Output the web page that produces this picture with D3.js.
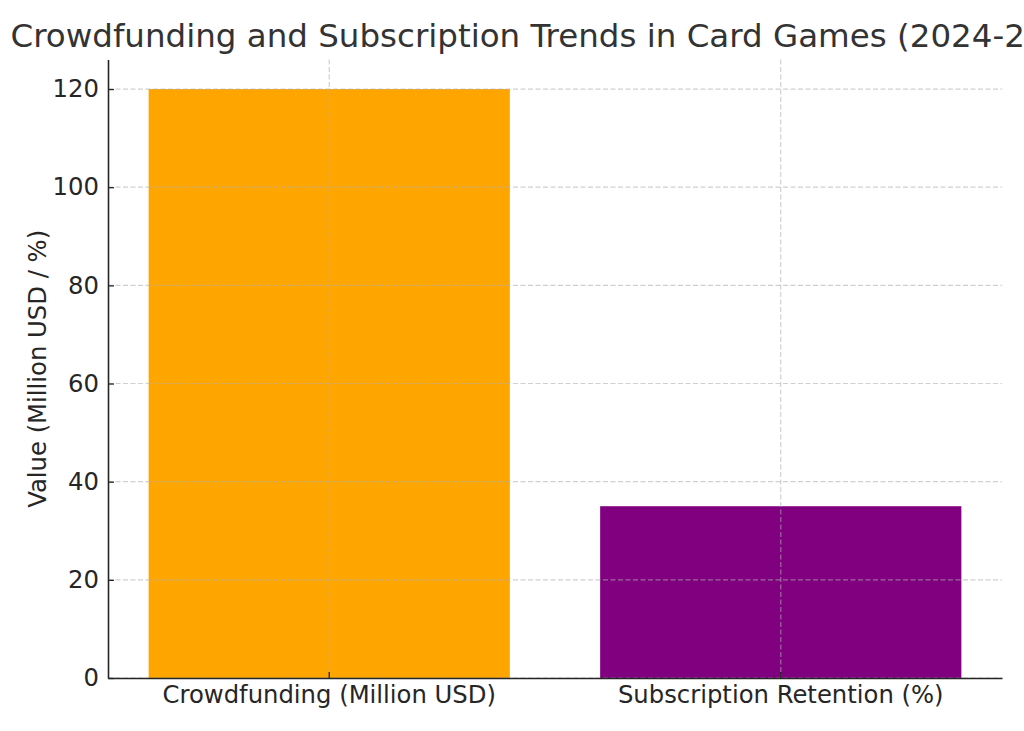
<!DOCTYPE html>
<head>
    <title>Crowdfunding and Subscription Trends</title>
    <script src="https://d3js.org/d3.v7.min.js"></script>
</head>
<style>
body {
  margin: 0;
  background: #fff;
  font-family: "DejaVu Sans", sans-serif;
}
</style>
<body>
    <svg></svg>
</body>

<script>

    // Data
    var categories = ["Crowdfunding (Million USD)", "Subscription Retention (%)"];
    var values = [120, 35];
    var barColors = ["#FFA500", "#800080"];
    var yTicks = [0, 20, 40, 60, 80, 100, 120];

    // Variables
    var width = 1024;
    var height = 731;
    var margin = {left: 108, right: 22, top: 59.6, bottom: 53};

    var svg = d3.select('svg')
        .attr('width', width)
        .attr('height', height);

    var x = d3.scaleBand()
        .domain(categories)
        .range([margin.left, width - margin.right])
        .paddingInner(0.2)
        .paddingOuter(0.09);

    var y = d3.scaleLinear()
        .domain([0, 126])
        .range([height - margin.bottom, margin.top]);

    // Bars
    svg.append('g').selectAll('rect')
        .data(values)
        .enter().append('rect')
        .attr('x', function (d, i) { return x(categories[i]); })
        .attr('y', function (d) { return y(d); })
        .attr('width', x.bandwidth())
        .attr('height', function (d) { return y(0) - y(d); })
        .style('fill', function (d, i) { return barColors[i]; });

    // Grid lines on top of bars, dashed light gray
    var grid = svg.append('g')
        .style('stroke', '#b0b0b0')
        .style('stroke-opacity', 0.6)
        .style('stroke-width', 1.2)
        .style('stroke-dasharray', '5,2.5');

    grid.selectAll('.hgrid')
        .data(yTicks)
        .enter().append('line')
        .attr('class', 'hgrid')
        .attr('x1', margin.left)
        .attr('x2', width - margin.right)
        .attr('y1', function (d) { return y(d); })
        .attr('y2', function (d) { return y(d); });

    grid.selectAll('.vgrid')
        .data(categories)
        .enter().append('line')
        .attr('class', 'vgrid')
        .attr('x1', function (d) { return x(d) + x.bandwidth() / 2; })
        .attr('x2', function (d) { return x(d) + x.bandwidth() / 2; })
        .attr('y1', margin.top)
        .attr('y2', height - margin.bottom);

    // Axes, ticks pointing inward
    var yAxis = svg.append('g')
        .attr('transform', 'translate(' + margin.left + ',0)')
        .call(d3.axisLeft(y).tickValues(yTicks).tickSizeInner(-6).tickSizeOuter(0).tickPadding(9));

    var xAxis = svg.append('g')
        .attr('transform', 'translate(0,' + (height - margin.bottom) + ')')
        .call(d3.axisBottom(x).tickSizeInner(-6).tickSizeOuter(0).tickPadding(8));

    [xAxis, yAxis].forEach(function (a) {
        a.select('.domain').style('stroke', '#262626').style('stroke-width', 1.6);
        a.selectAll('.tick line').style('stroke', '#262626').style('stroke-width', 1.3);
        a.selectAll('.tick text')
            .style('font-family', '"DejaVu Sans", sans-serif')
            .style('font-size', '24.3px')
            .style('fill', '#262626');
    });

    // Axis label
    svg.append('text')
        .attr('transform', 'translate(46,' + (margin.top + y.range()[0]) / 2 + ')rotate(-90)')
        .attr('text-anchor', 'middle')
        .style('font-size', '24.3px')
        .style('fill', '#262626')
        .text('Value (Million USD / %)');

    // Title (wider than the page, clipped at both sides like the original)
    svg.append('text')
        .attr('x', (margin.left + width - margin.right) / 2)
        .attr('y', 47)
        .attr('text-anchor', 'middle')
        .style('font-size', '32.5px')
        .style('fill', '#333')
        .text('Crowdfunding and Subscription Trends in Card Games (2024-2025)');

</script>
